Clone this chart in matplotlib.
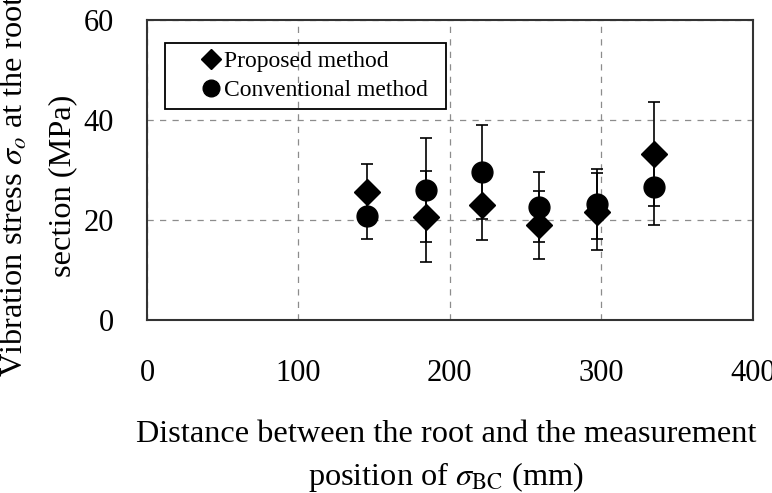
import matplotlib
matplotlib.use('Agg')
import matplotlib.pyplot as plt
from matplotlib.patches import Rectangle

plt.rcParams['font.family'] = ['Liberation Serif', 'DejaVu Serif']
plt.rcParams['mathtext.fontset'] = 'stix'

# distance from root (mm)
distance = [145, 184, 221, 259, 297, 335]

# vibration stress (MPa) and error bar half-widths
proposed = [25.7, 20.7, 23.1, 19.1, 21.7, 33.3]
proposed_err = [5.6, 9.1, 7.1, 6.8, 7.7, 10.4]
conventional = [20.8, 26.1, 29.7, 22.7, 23.3, 26.7]
conventional_err = [4.5, 10.4, 9.4, 7.0, 7.0, 7.6]

fig = plt.figure(figsize=(7.72, 4.93), dpi=100)
ax = fig.add_axes([0.1904, 0.3509, 0.7846, 0.6085])

# error bars first, markers on top
ax.errorbar(distance, proposed, yerr=proposed_err, fmt='none', ecolor='black',
            capsize=4.3, elinewidth=1.2, capthick=1.2, zorder=3)
ax.errorbar(distance, conventional, yerr=conventional_err, fmt='none', ecolor='black',
            capsize=4.3, elinewidth=1.2, capthick=1.2, zorder=3)
ax.plot(distance, proposed, 'D', color='black', ms=13, label='Proposed method', zorder=4)
ax.plot(distance, conventional, 'o', color='black', ms=15, label='Conventional method', zorder=4)

ax.set_xlim(0, 400)
ax.set_ylim(0, 60)
ax.set_xticks([0, 100, 200, 300, 400])
ax.set_yticks([0, 20, 40, 60])
ax.tick_params(length=0, labelsize=22)
ax.tick_params(axis='x', pad=28)
ax.tick_params(axis='y', pad=24)
ax.grid(True, color='#8c8c8c', linestyle=(0, (5, 5)), linewidth=0.9)
ax.set_axisbelow(True)
for s in ax.spines.values():
    s.set_color('#333333')
    s.set_linewidth(1.5)

# legend without frame, plus a separate box
ax.legend(loc='upper left', bbox_to_anchor=(0.090, 0.898), frameon=False,
          fontsize=17, borderpad=0, borderaxespad=0, handlelength=0.8,
          handletextpad=0.15, labelspacing=0.33, markerscale=0.8)
ax.add_patch(Rectangle((0.030, 0.703), 0.464, 0.221, transform=ax.transAxes,
                       fill=False, ec='black', lw=1.3, zorder=5))

# axis labels
fig.text(0.578, 0.1034, 'Distance between the root and the measurement',
         ha='center', va='baseline', fontsize=23.3)
fig.text(0.578, 0.0162, r'position of $\sigma_{\rm BC}$ (mm)',
         ha='center', va='baseline', fontsize=23.3)
fig.text(0.0298, 0.2353, r'Vibration stress $\sigma_o$ at the root',
         ha='left', va='baseline', rotation=90, rotation_mode='anchor', fontsize=23.3)
fig.text(0.0907, 0.438, 'section (MPa)',
         ha='left', va='baseline', rotation=90, rotation_mode='anchor', fontsize=23.3)

fig.savefig('out.png', dpi=100)
